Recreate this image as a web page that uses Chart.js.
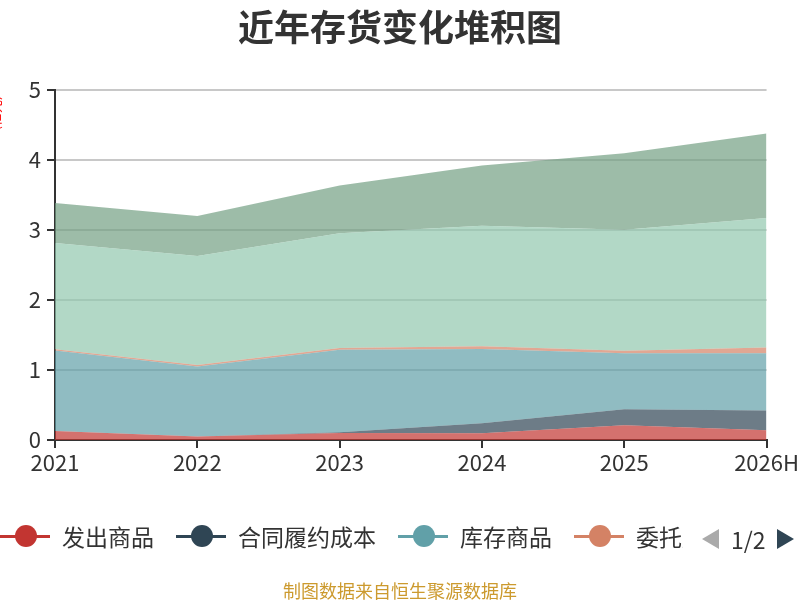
<!DOCTYPE html>
<html lang="zh">

<head>
    <meta charset="UTF-8" />
    <title>近年存货变化堆积图</title>
    <script src="https://cdn.jsdelivr.net/npm/chart.js"></script>
    <style>
        body {
            margin: 0;
            font-family: "Noto Sans CJK SC", sans-serif;
            background: #fff;
        }

        #wrap {
            position: relative;
            width: 800px;
            height: 600px;
            overflow: hidden;
        }

        #title {
            position: absolute;
            left: 0;
            top: 1px;
            width: 800px;
            text-align: center;
            font-size: 36px;
            font-weight: bold;
            color: #333;
            line-height: 48px;
        }

        #legend {
            position: absolute;
            left: 0;
            top: 520px;
            width: 683px;
            height: 32px;
            overflow: hidden;
            white-space: nowrap;
            display: flex;
            align-items: center;
        }

        .item {
            display: inline-flex;
            align-items: center;
            margin-right: 22px;
            flex: none;
        }

        .marker {
            position: relative;
            width: 50px;
            height: 24px;
            margin-right: 12px;
        }

        .marker .ln {
            position: absolute;
            left: 0;
            top: 11px;
            width: 50px;
            height: 2.5px;
        }

        .marker .dot {
            position: absolute;
            left: 15px;
            top: 1px;
            width: 22px;
            height: 22px;
            border-radius: 50%;
        }

        .item span {
            font-size: 23px;
            color: #333;
        }

        #pager {
            position: absolute;
            left: 702px;
            top: 522px;
            height: 34px;
            display: flex;
            align-items: center;
        }

        .tri-l {
            width: 0;
            height: 0;
            border-top: 10px solid transparent;
            border-bottom: 10px solid transparent;
            border-right: 17px solid #aaa;
        }

        .tri-r {
            width: 0;
            height: 0;
            border-top: 10px solid transparent;
            border-bottom: 10px solid transparent;
            border-left: 17px solid #2f4554;
        }

        #pager span {
            font-size: 23px;
            color: #333;
            margin: 0 11px 0 12px;
        }

        #source {
            position: absolute;
            left: 0;
            width: 800px;
            top: 577px;
            text-align: center;
            font-size: 18px;
            color: #cc9a2e;
        }
    </style>
</head>

<body>
    <div id="wrap">
        <canvas id="stockChart" width="800" height="600"></canvas>
        <div id="title">近年存货变化堆积图</div>
        <div id="legend"></div>
        <div id="pager">
            <div class="tri-l"></div><span>1/2</span><div class="tri-r"></div>
        </div>
        <div id="source">制图数据来自恒生聚源数据库</div>
    </div>

    <script>
        const years = ['2021', '2022', '2023', '2024', '2025', '2026H'];
        const seriesNames = ['发出商品', '合同履约成本', '库存商品', '委托加工物资', '原材料', '在产品'];
        const seriesColors = ['#c23531', '#2f4554', '#61a0a8', '#d48265', '#91c7ae', '#749f83'];

        // 单位：亿元
        const faChuShangPin = [0.13, 0.05, 0.10, 0.095, 0.21, 0.14];
        const heTongLvYue = [0.0, 0.0, 0.01, 0.145, 0.23, 0.28];
        const kuCunShangPin = [1.15, 1.00, 1.18, 1.06, 0.80, 0.82];
        const weiTuoJiaGong = [0.015, 0.02, 0.025, 0.04, 0.035, 0.08];
        const yuanCaiLiao = [1.52, 1.56, 1.64, 1.72, 1.73, 1.85];
        const zaiChanPin = [0.57, 0.57, 0.68, 0.86, 1.09, 1.21];
        const yTicks = [0, 1, 2, 3, 4, 5];

        const seriesData = [faChuShangPin, heTongLvYue, kuCunShangPin, weiTuoJiaGong, yuanCaiLiao, zaiChanPin];

        function withAlpha(hex, a) {
            const r = parseInt(hex.slice(1, 3), 16);
            const g = parseInt(hex.slice(3, 5), 16);
            const b = parseInt(hex.slice(5, 7), 16);
            return `rgba(${r}, ${g}, ${b}, ${a})`;
        }

        const datasets = seriesData.map((data, i) => ({
            label: seriesNames[i],
            data: data,
            backgroundColor: withAlpha(seriesColors[i], 0.7),
            borderColor: withAlpha(seriesColors[i], 0.7),
            borderWidth: 0,
            pointRadius: 0,
            fill: i === 0 ? 'origin' : '-1',
            tension: 0
        }));

        // 左侧被裁掉的红色单位文字
        const unitLabel = {
            id: 'unitLabel',
            afterDraw(chart) {
                const c = chart.ctx;
                c.save();
                c.translate(-5, 113);
                c.rotate(-Math.PI / 2);
                c.font = '13px "Noto Sans CJK SC"';
                c.fillStyle = '#ff0000';
                c.textAlign = 'center';
                c.textBaseline = 'middle';
                c.fillText('(亿元)', 0, 0);
                c.restore();
            }
        };

        const ctx = document.getElementById('stockChart').getContext('2d');
        new Chart(ctx, {
            type: 'line',
            data: {
                labels: years,
                datasets: datasets
            },
            plugins: [unitLabel],
            options: {
                responsive: false,
                animation: false,
                layout: {
                    padding: { left: 0, right: 32, top: 90, bottom: 120 }
                },
                plugins: {
                    legend: { display: false },
                    tooltip: { enabled: false },
                    title: { display: false }
                },
                scales: {
                    x: {
                        offset: false,
                        border: { color: '#333', width: 2 },
                        grid: {
                            drawOnChartArea: false,
                            tickColor: '#333',
                            tickLength: 8,
                            lineWidth: 2
                        },
                        ticks: {
                            color: '#333',
                            font: { family: 'Noto Sans CJK SC', size: 22 },
                            maxRotation: 0,
                            padding: 1
                        },
                        afterFit(scale) { scale.height = 40; }
                    },
                    y: {
                        stacked: true,
                        min: 0,
                        max: 5,
                        afterBuildTicks(scale) {
                            scale.ticks = yTicks.map(v => ({ value: v }));
                        },
                        border: { color: '#333', width: 2 },
                        grid: {
                            color: '#c8c8c8',
                            lineWidth: 2,
                            tickColor: '#333',
                            tickLength: 8
                        },
                        ticks: {
                            color: '#333',
                            font: { family: 'Noto Sans CJK SC', size: 22 },
                            padding: 6
                        },
                        afterFit(scale) { scale.width = 55; }
                    }
                }
            }
        });

        // 图例（第 1 页）
        const legendBox = document.getElementById('legend');
        seriesNames.forEach((name, i) => {
            const item = document.createElement('div');
            item.className = 'item';
            item.innerHTML = `<div class="marker"><div class="ln" style="background:${seriesColors[i]}"></div>` +
                `<div class="dot" style="background:${seriesColors[i]}"></div></div><span>${name}</span>`;
            legendBox.appendChild(item);
        });
    </script>
</body>

</html>
